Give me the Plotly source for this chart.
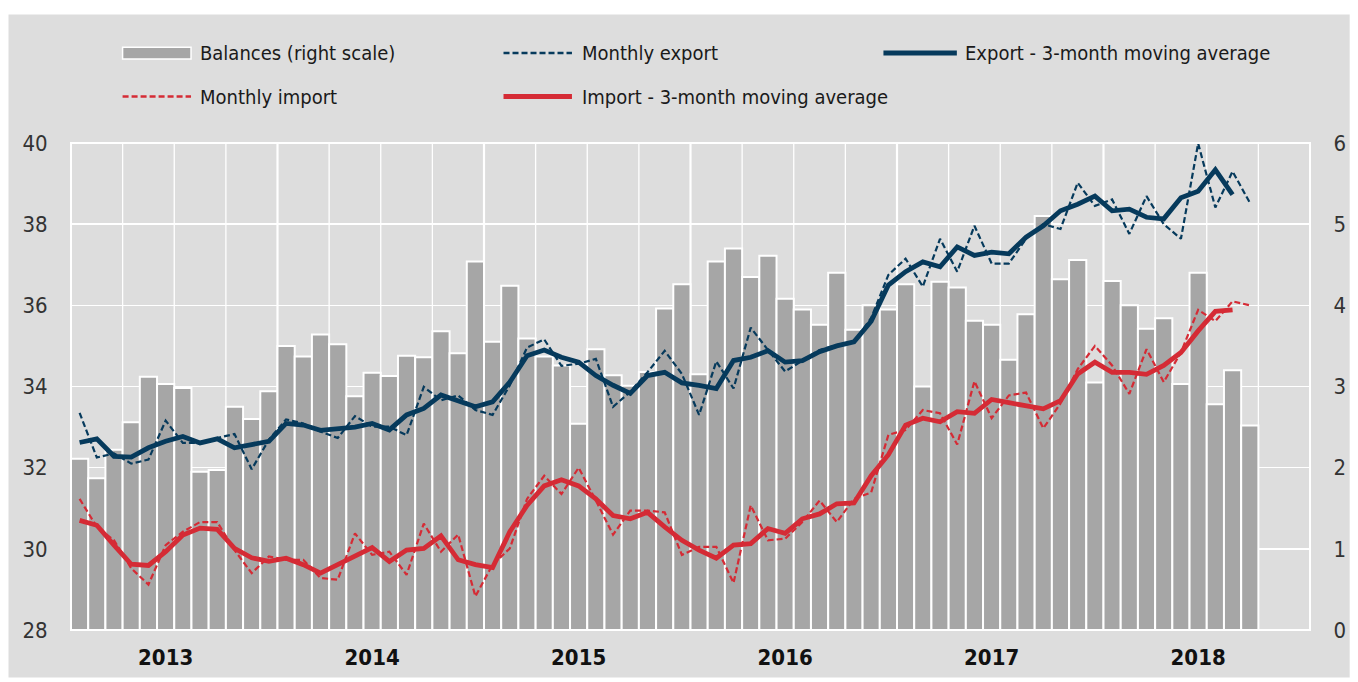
import numpy as np
import plotly.graph_objects as go

# ---------------- data ----------------
year_labels = ["2013", "2014", "2015", "2016", "2017", "2018"]

# trade balance, right scale (Jan 2013 .. Sep 2018)
balances = [2.11, 1.87, 2.22, 2.56, 3.12, 3.03, 2.98, 1.95, 1.97, 2.75, 2.60, 2.94,
            3.50, 3.37, 3.64, 3.52, 2.88, 3.17, 3.13, 3.38, 3.36, 3.68, 3.41, 4.54,
            3.55, 4.24, 3.59, 3.37, 3.26, 2.54, 3.46, 3.14, 3.01, 3.18, 3.96, 4.26,
            3.15, 4.54, 4.70, 4.35, 4.61, 4.08, 3.95, 3.76, 4.40, 3.70, 4.00, 3.95,
            4.26, 3.00, 4.29, 4.22, 3.81, 3.76, 3.33, 3.89, 5.10, 4.32, 4.56, 3.05,
            4.30, 4.00, 3.71, 3.84, 3.03, 4.40, 2.78, 3.20, 2.52]

export_monthly = [33.35, 32.25, 32.35, 32.10, 32.20, 33.16, 32.61, 32.61, 32.73, 32.83, 31.96, 32.69,
                  33.19, 33.09, 32.89, 32.73, 33.27, 33.01, 33.01, 32.80, 33.99, 33.66, 33.78, 33.42,
                  33.30, 34.03, 34.96, 35.16, 34.51, 34.56, 34.68, 33.50, 33.87, 34.35, 34.88, 34.31,
                  33.30, 34.62, 33.95, 35.45, 34.90, 34.37, 34.64, 34.90, 35.02, 35.10, 35.69, 36.75,
                  37.15, 36.46, 37.64, 36.83, 37.96, 37.03, 37.03, 37.64, 38.00, 37.88, 39.02, 38.45,
                  38.61, 37.76, 38.69, 38.00, 37.64, 39.99, 38.41, 39.30, 38.53]

export_ma = [32.62, 32.71, 32.28, 32.26, 32.49, 32.65, 32.77, 32.61, 32.71, 32.49, 32.57, 32.65,
             33.09, 33.05, 32.92, 32.97, 33.00, 33.09, 32.93, 33.30, 33.46, 33.79, 33.66, 33.50,
             33.62, 34.11, 34.76, 34.90, 34.72, 34.60, 34.27, 34.03, 33.83, 34.27, 34.35, 34.09,
             34.03, 33.95, 34.64, 34.72, 34.88, 34.60, 34.64, 34.86, 35.00, 35.10, 35.61, 36.50,
             36.83, 37.07, 36.95, 37.44, 37.23, 37.31, 37.27, 37.68, 37.96, 38.33, 38.49, 38.69,
             38.33, 38.37, 38.17, 38.13, 38.65, 38.81, 39.34, 38.73]

import_monthly = [31.23, 30.54, 30.21, 29.52, 29.12, 30.09, 30.42, 30.66, 30.66, 29.97, 29.40, 29.81,
                  29.73, 29.73, 29.28, 29.24, 30.38, 29.85, 29.93, 29.36, 30.62, 29.93, 30.35, 28.83,
                  29.61, 30.01, 31.23, 31.80, 31.35, 32.00, 31.19, 30.35, 30.94, 30.94, 30.90, 29.85,
                  30.05, 30.05, 29.16, 31.07, 30.21, 30.25, 30.66, 31.19, 30.66, 31.23, 31.39, 32.81,
                  32.93, 33.42, 33.34, 32.57, 34.13, 33.22, 33.78, 33.85, 32.97, 33.58, 34.43, 35.00,
                  34.52, 33.82, 34.92, 34.11, 34.84, 35.89, 35.61, 36.10, 36.00]

import_ma = [30.70, 30.58, 30.09, 29.62, 29.59, 29.93, 30.34, 30.51, 30.48, 30.01, 29.78, 29.69,
             29.77, 29.61, 29.40, 29.61, 29.81, 30.03, 29.69, 29.97, 30.01, 30.32, 29.73, 29.61,
             29.54, 30.42, 31.07, 31.55, 31.70, 31.55, 31.23, 30.82, 30.74, 30.90, 30.54, 30.21,
             29.97, 29.77, 30.09, 30.13, 30.50, 30.38, 30.74, 30.86, 31.11, 31.13, 31.80, 32.32,
             33.05, 33.22, 33.13, 33.38, 33.34, 33.68, 33.60, 33.52, 33.45, 33.65, 34.31, 34.60,
             34.35, 34.35, 34.30, 34.52, 34.84, 35.37, 35.85, 35.89]

# ---------------- styling ----------------
NAVY = "#063a5c"
RED = "#d52b35"
BAR = "#a6a6a6"
BG = "#dddddd"
FONT = "DejaVu Sans Condensed, Liberation Sans Narrow, sans-serif"

FIG_W, FIG_H = 1358, 682
M_L, M_R, M_T, M_B = 71, 38, 143, 46
PW = FIG_W - M_L - M_R
PH = FIG_H - M_T - M_B


def px(X):
    """figure pixel x -> paper coordinate"""
    return (X - M_L) / PW


def py(Y):
    """figure pixel y -> paper coordinate"""
    return (FIG_H - M_B - Y) / PH


def xs(n):
    return np.arange(n) + 0.5


fig = go.Figure()

fig.add_trace(go.Bar(
    x=xs(len(balances)), y=balances, yaxis="y", width=1,
    marker=dict(color=BAR, line=dict(color="white", width=2)),
    name="Balances (right scale)", showlegend=False))

fig.add_trace(go.Scatter(
    x=xs(len(export_monthly)), y=export_monthly, yaxis="y2", mode="lines",
    line=dict(color=NAVY, width=2.2, dash="6px,3px"),
    name="Monthly export", showlegend=False))
fig.add_trace(go.Scatter(
    x=xs(len(import_monthly)), y=import_monthly, yaxis="y2", mode="lines",
    line=dict(color=RED, width=2.2, dash="6px,3px"),
    name="Monthly import", showlegend=False))
fig.add_trace(go.Scatter(
    x=xs(len(export_ma)), y=export_ma, yaxis="y2", mode="lines",
    line=dict(color=NAVY, width=4.8),
    name="Export - 3-month moving average", showlegend=False))
fig.add_trace(go.Scatter(
    x=xs(len(import_ma)), y=import_ma, yaxis="y2", mode="lines",
    line=dict(color=RED, width=4.8),
    name="Import - 3-month moving average", showlegend=False))

shapes = []
# outer grey panel
shapes.append(dict(type="rect", xref="paper", yref="paper", layer="below",
                   x0=px(8), x1=px(FIG_W + 2), y0=py(FIG_H + 2), y1=py(13),
                   fillcolor=BG, line=dict(width=0)))
# vertical quarterly / yearly grid lines
for q in range(3, 72, 3):
    shapes.append(dict(type="line", xref="x", yref="paper", layer="below",
                       x0=q, x1=q, y0=0, y1=1,
                       line=dict(color="white", width=2.2 if q % 12 == 0 else 1.3)))
# plot frame
shapes.append(dict(type="rect", xref="paper", yref="paper", layer="above",
                   x0=0, x1=1, y0=0, y1=1, line=dict(color="white", width=2)))

# custom legend
ROW1, ROW2 = 52, 96
shapes.append(dict(type="rect", xref="paper", yref="paper",
                   x0=px(123), x1=px(192), y0=py(ROW1 + 6), y1=py(ROW1 - 6),
                   fillcolor=BAR, line=dict(color="white", width=1.5)))
legend_lines = [
    (507, 576, ROW1, NAVY, 2.5, "6px,3px"),
    (890, 964, ROW1, NAVY, 5, "solid"),
    (123, 192, ROW2, RED, 2.5, "6px,3px"),
    (507, 576, ROW2, RED, 5, "solid"),
]
for x0, x1, yy, col, w, dash in legend_lines:
    shapes.append(dict(type="line", xref="paper", yref="paper",
                       x0=px(x0), x1=px(x1), y0=py(yy), y1=py(yy),
                       line=dict(color=col, width=w, dash=dash)))

legend_texts = [
    (199, ROW1, "Balances (right scale)"),
    (584, ROW1, "Monthly export"),
    (970, ROW1, "Export - 3-month moving average"),
    (199, ROW2, "Monthly import"),
    (584, ROW2, "Import - 3-month moving average"),
]
annotations = [dict(xref="paper", yref="paper", x=px(x), y=py(y), text=t,
                    showarrow=False, xanchor="left", yanchor="middle",
                    font=dict(family=FONT, size=20, color="#1a1a1a"))
               for x, y, t in legend_texts]

fig.update_layout(
    width=FIG_W, height=FIG_H,
    margin=dict(l=M_L, r=M_R, t=M_T, b=M_B, pad=0),
    paper_bgcolor="white", plot_bgcolor=BG,
    bargap=0, showlegend=False, hovermode=False,
    font=dict(family=FONT, color="#333333"),
    shapes=shapes, annotations=annotations,
    xaxis=dict(range=[0, 72], tickvals=[5.5 + 12 * k for k in range(len(year_labels))],
               ticktext=["<b>%s</b>" % y for y in year_labels],
               showgrid=False, zeroline=False, showline=False,
               ticks="outside", ticklen=8, tickcolor="rgba(0,0,0,0)",
               tickfont=dict(family=FONT, size=22, color="#111111")),
    yaxis=dict(range=[0, 6], side="right", dtick=1, showgrid=True,
               gridcolor="white", gridwidth=1.6, zeroline=False, showline=False,
               ticks="outside", ticklen=18, tickcolor="rgba(0,0,0,0)",
               tickfont=dict(family=FONT, size=22, color="#333333")),
    yaxis2=dict(range=[28, 40], side="left", overlaying="y", dtick=2,
                showgrid=False, zeroline=False, showline=False,
                ticks="outside", ticklen=18, tickcolor="rgba(0,0,0,0)",
                tickfont=dict(family=FONT, size=22, color="#333333")),
)

fig.write_html(
    "out.html",
    config={"displayModeBar": False, "staticPlot": True},
    post_script="document.body.style.margin='0';document.body.style.overflow='hidden';",
)
